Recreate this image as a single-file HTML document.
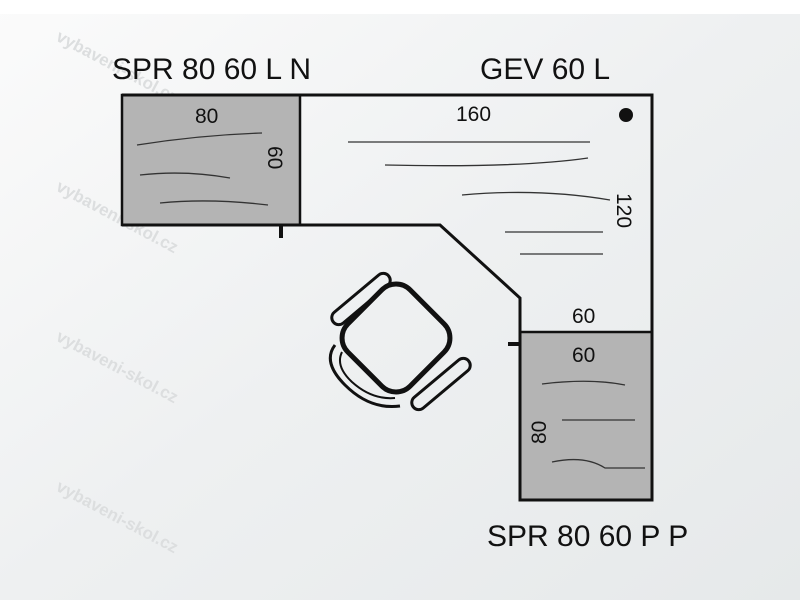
<!DOCTYPE html>
<html><head><meta charset="utf-8"><style>
body{margin:0;width:800px;height:600px;overflow:hidden;background:#eceeef;}
svg{display:block}
text{font-family:"Liberation Sans",Arial,sans-serif;fill:#111}
</style></head><body>
<svg width="800" height="600" viewBox="0 0 800 600">
<defs><linearGradient id="bg" x1="0" y1="0" x2="1" y2="1">
<stop offset="0" stop-color="#fbfbfb"/><stop offset="0.5" stop-color="#eef0f1"/><stop offset="1" stop-color="#e6e9ea"/></linearGradient></defs>
<rect width="800" height="600" fill="url(#bg)"/>
<rect x="0" y="0" width="800" height="14" fill="#fff"/>
<g font-size="17" font-weight="bold">
<text transform="translate(55 40) rotate(28)" style="fill:#dcdedf">vybaveni-skol.cz</text>
<text transform="translate(55 190) rotate(28)" style="fill:#dcdedf">vybaveni-skol.cz</text>
<text transform="translate(55 340) rotate(28)" style="fill:#dcdedf">vybaveni-skol.cz</text>
<text transform="translate(55 490) rotate(28)" style="fill:#dcdedf">vybaveni-skol.cz</text>
</g>
<rect x="122" y="95" width="178" height="130" fill="#b4b4b4" stroke="#111" stroke-width="2.5"/>
<rect x="520" y="332" width="132" height="168" fill="#b4b4b4" stroke="#111" stroke-width="2.5"/>
<path d="M122 95 H652 V500 H520 V298 L440 225 H122" fill="none" stroke="#111" stroke-width="3"/>
<line x1="281" y1="225" x2="281" y2="238" stroke="#111" stroke-width="4"/>
<line x1="508" y1="344" x2="520" y2="344" stroke="#111" stroke-width="4"/>
<circle cx="626" cy="115" r="7" fill="#111"/>
<g fill="none" stroke="#333" stroke-width="1.3">
<path d="M137 145 Q200 135 262 133"/><path d="M140 175 Q185 170 230 178"/><path d="M160 203 Q210 198 268 205"/>
<path d="M348 142 H590"/><path d="M385 165 Q520 168 588 158"/><path d="M462 195 Q540 188 610 200"/>
<path d="M505 232 H603"/><path d="M520 254 H603"/>
<path d="M542 384 Q590 378 625 385"/><path d="M562 420 H635"/><path d="M552 462 Q585 455 605 468 L645 468"/>
</g>
<g fill="none" stroke="#111">
<rect x="352" y="294" width="88" height="88" rx="20" transform="rotate(45 396 338)" stroke-width="5"/>
<rect x="325" y="292" width="72" height="14" rx="7" transform="rotate(-40 361 299)" stroke-width="3"/>
<rect x="405" y="377" width="72" height="14" rx="7" transform="rotate(-40 441 384)" stroke-width="3"/>
<path d="M335 345 Q322 362 345 385 Q370 410 400 406" stroke-width="3"/>
<path d="M342 352 Q335 366 352 382 Q372 400 395 398" stroke-width="2"/>
</g>
<text x="112" y="79" font-size="30">SPR 80 60 L N</text>
<text x="480" y="79" font-size="30">GEV 60 L</text>
<text x="487" y="546" font-size="30">SPR 80 60 P P</text>
<g font-size="21">
<text x="195" y="123">80</text>
<text x="456" y="121">160</text>
<text x="572" y="323">60</text>
<text x="572" y="362">60</text>
<text transform="translate(268 146) rotate(90)">60</text>
<text transform="translate(617 193) rotate(90)">120</text>
<text transform="translate(546 444) rotate(-90)">80</text>
</g>
</svg>
</body></html>
